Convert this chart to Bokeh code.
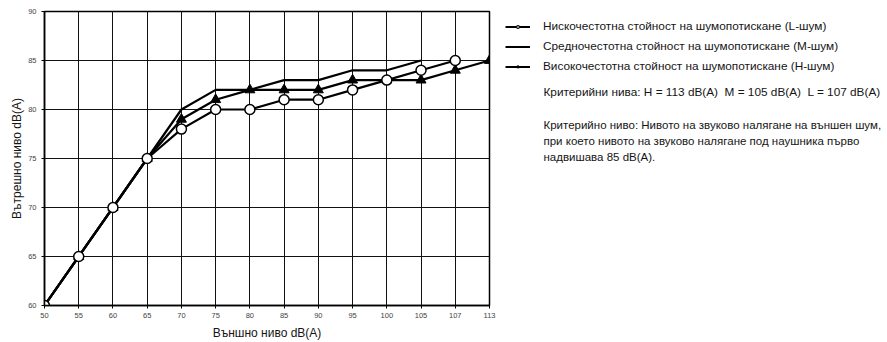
from bokeh.plotting import figure
from bokeh.layouts import row
from bokeh.models import Range1d, FixedTicker, Legend, LegendItem, Label, ColumnDataSource
from bokeh.embed import file_html
from bokeh.resources import INLINE

# ---- data ----
x_labels = ["50", "55", "60", "65", "70", "75", "80", "85", "90", "95", "100", "105", "107", "113"]
l_noise = [60, 65, 70, 75, 78, 80, 80, 81, 81, 82, 83, 84, 85]
m_noise = [60, 65, 70, 75, 80, 82, 82, 83, 83, 84, 84, 85]
h_noise = [60, 65, 70, 75, 79, 81, 82, 82, 82, 83, 83, 83, 84, 85]
y_ticks = [60, 65, 70, 75, 80, 85, 90]

legend_labels = [
    "Нискочестотна стойност на шумопотискане (L-шум)",
    "Средночестотна стойност на шумопотискане (M-шум)",
    "Високочестотна стойност на шумопотискане (H-шум)",
]
criteria_text = "Критерийни нива: H = 113 dB(A)\u00a0\u00a0M = 105 dB(A)\u00a0\u00a0L = 107 dB(A)"
note_lines = [
    "Критерийно ниво: Нивото на звуково налягане на външен шум,",
    "при което нивото на звуково налягане под наушника първо",
    "надвишава 85 dB(A).",
]
x_title = "Външно ниво dB(A)"
y_title = "Вътрешно ниво dB(A)"

FONT = "Liberation Sans"
TXT = "#151515"
TOTAL_W, TOTAL_H = 887, 342
CHART_W = 497

x_idx = list(range(len(x_labels)))
src_l = ColumnDataSource(dict(x=x_idx[:len(l_noise)], y=l_noise))
src_m = ColumnDataSource(dict(x=x_idx[:len(m_noise)], y=m_noise))
src_h = ColumnDataSource(dict(x=x_idx[:len(h_noise)], y=h_noise))

p = figure(width=CHART_W, height=TOTAL_H, x_range=Range1d(0, len(x_labels) - 1), y_range=Range1d(60, 90),
           output_backend="svg", toolbar_location=None,
           min_border_left=44, min_border_right=8, min_border_top=11, min_border_bottom=37)

p.background_fill_color = "white"
p.border_fill_color = "white"
p.outline_line_color = "black"
p.outline_line_width = 1.5

p.xaxis.ticker = FixedTicker(ticks=x_idx)
p.xaxis.major_label_overrides = {i: lab for i, lab in enumerate(x_labels)}
p.yaxis.ticker = FixedTicker(ticks=y_ticks)

for ax in (p.xaxis[0], p.yaxis[0]):
    ax.axis_line_color = "black"
    ax.axis_line_width = 1.5
    ax.major_tick_line_color = "black"
    ax.major_tick_out = 3
    ax.major_tick_in = 0
    ax.minor_tick_line_color = None
    ax.major_label_text_font = FONT
    ax.major_label_text_font_size = "7.5px"
    ax.major_label_text_color = "#444444"
    ax.axis_label_text_font = FONT
    ax.axis_label_text_font_size = "12px"
    ax.axis_label_text_font_style = "normal"
    ax.axis_label_text_color = TXT

p.xaxis.major_label_standoff = 4
p.xaxis.axis_label_standoff = 5
p.yaxis.major_label_standoff = 5
p.yaxis.axis_label_standoff = 1

p.xaxis.axis_label = x_title
p.yaxis.axis_label = y_title

for g in (p.xgrid[0], p.ygrid[0]):
    g.grid_line_color = "#111111"
    g.grid_line_alpha = 1.0
    g.grid_line_width = 1

p.line("x", "y", source=src_m, line_color="black", line_width=2.2)
p.line("x", "y", source=src_l, line_color="black", line_width=2.2)
p.line("x", "y", source=src_h, line_color="black", line_width=2.2)
p.scatter("x", "y", source=src_h, marker="triangle", size=10, fill_color="black", line_color="black")
p.scatter("x", "y", source=src_l, marker="circle", size=10, fill_color="white",
          line_color="black", line_width=1.5)

# ---- side panel: legend and notes ----
SIDE_W = TOTAL_W - CHART_W
TOP = 8
q = figure(width=SIDE_W, height=TOTAL_H, x_range=Range1d(0, SIDE_W), y_range=Range1d(TOTAL_H, TOP),
           output_backend="svg", toolbar_location=None,
           min_border_left=0, min_border_right=0, min_border_top=TOP, min_border_bottom=0)
q.axis.visible = False
q.grid.visible = False
q.outline_line_color = None
q.background_fill_color = "white"
q.border_fill_color = "white"

# hidden copies of the series, used only to draw the legend samples
s_l_line = q.line("x", "y", source=src_l, line_color="black", line_width=2, visible=False)
s_l_circ = q.scatter("x", "y", source=src_l, marker="circle", fill_color="white",
                     line_color="black", line_width=1.1, visible=False)
s_m_line = q.line("x", "y", source=src_m, line_color="black", line_width=2, visible=False)
s_h_line = q.line("x", "y", source=src_h, line_color="black", line_width=2, visible=False)
s_h_tri = q.scatter("x", "y", source=src_h, marker="triangle", fill_color="black",
                    line_color="black", visible=False)

legend = Legend(items=[
    LegendItem(label=legend_labels[0], renderers=[s_l_line, s_l_circ]),
    LegendItem(label=legend_labels[1], renderers=[s_m_line]),
    LegendItem(label=legend_labels[2], renderers=[s_h_line, s_h_tri]),
], location="top_left", glyph_width=25, glyph_height=7, label_height=13, spacing=6,
    padding=0, margin=8, border_line_color=None, background_fill_alpha=0,
    inactive_fill_alpha=0, label_standoff=13, label_text_font=FONT,
    label_text_font_size="11.8px", label_text_color=TXT)
q.add_layout(legend)

TX = 46
q.add_layout(Label(x=TX, y=99, text=criteria_text,
                   text_baseline="middle", text_font=FONT, text_font_size="11.8px", text_color=TXT))
for i, line in enumerate(note_lines):
    q.add_layout(Label(x=TX, y=137 + 18 * i, text=line,
                       text_baseline="middle", text_font=FONT, text_font_size="11.5px",
                       text_color=TXT))

layout = row(p, q, spacing=0)
open("out.html", "w").write(file_html(layout, INLINE))
